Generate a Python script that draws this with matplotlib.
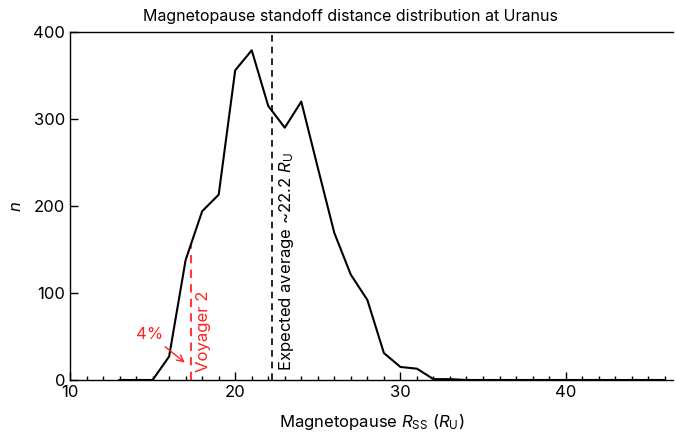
import matplotlib
matplotlib.use("Agg")
import matplotlib.pyplot as plt
from matplotlib.ticker import MultipleLocator

plt.rcParams['font.family'] = ['Inter', 'DejaVu Sans']
plt.rcParams['mathtext.fontset'] = 'custom'
plt.rcParams['mathtext.rm'] = 'Inter'
plt.rcParams['mathtext.it'] = 'Inter:italic'

rss = [13, 14, 15, 16, 17, 18, 19, 20, 21, 22, 23, 24, 25, 26, 27, 28, 29, 30,
       31, 32, 33, 34, 35, 36, 37, 38, 39, 40, 41, 42, 43, 44, 45, 46]
counts = [0, 0, 0, 27, 138, 194, 213, 356, 379, 315, 290, 320, 244, 169, 121, 92, 31, 15,
          13, 1, 1, 0, 0, 0, 0, 0, 0, 0, 0, 0, 0, 0, 0, 0]

expected_avg = 22.2
voyager_rss = 17.3
voyager_n = 155

fig = plt.figure(figsize=(6.76, 4.37), dpi=100)
ax = fig.add_axes([70/676, (437-380)/437, (673-70)/676, (380-32)/437])

ax.plot(rss, counts, color='black', lw=1.5, zorder=3)
ax.plot([expected_avg, expected_avg], [0, 400], color='black', lw=1.2, ls=(0, (4, 3)))
ax.plot([voyager_rss, voyager_rss], [0, voyager_n], color='#ff3b3b', lw=1.5, ls=(0, (4, 3)))

ax.text(expected_avg + 0.3, 10, 'Expected average ~22.2 $R_{\\rm U}$', rotation=90,
        ha='left', va='bottom', fontsize=12)
ax.text(voyager_rss + 0.3, 9, 'Voyager 2', rotation=90, ha='left', va='bottom',
        fontsize=12, color='#ff2222')
ax.annotate('4%', xy=(16.95, 20), xytext=(14.85, 52), color='#ff2222', fontsize=12,
            ha='center', va='center',
            arrowprops=dict(arrowstyle='->', color='#ff2222', lw=1.0, shrinkA=2, shrinkB=0))

ax.set_xlim(10, 46.5)
ax.set_ylim(0, 400)
ax.xaxis.set_major_locator(MultipleLocator(10))
ax.xaxis.set_minor_locator(MultipleLocator(1))
ax.yaxis.set_major_locator(MultipleLocator(100))
ax.tick_params(axis='both', which='major', direction='in', length=6, width=1, labelsize=12)
ax.tick_params(axis='x', which='minor', direction='in', length=3, width=1)
ax.spines['right'].set_visible(False)
for s in ['left', 'bottom', 'top']:
    ax.spines[s].set_linewidth(1.0)

ax.set_title('Magnetopause standoff distance distribution at Uranus', fontsize=11.5,
             pad=8, x=(350-70)/603)
ax.set_xlabel('Magnetopause $R_{\\rm SS}$ ($R_{\\rm U}$)', fontsize=12, labelpad=9)
ax.set_ylabel('$n$', fontsize=12, labelpad=7)

fig.savefig('out.png', dpi=100)
